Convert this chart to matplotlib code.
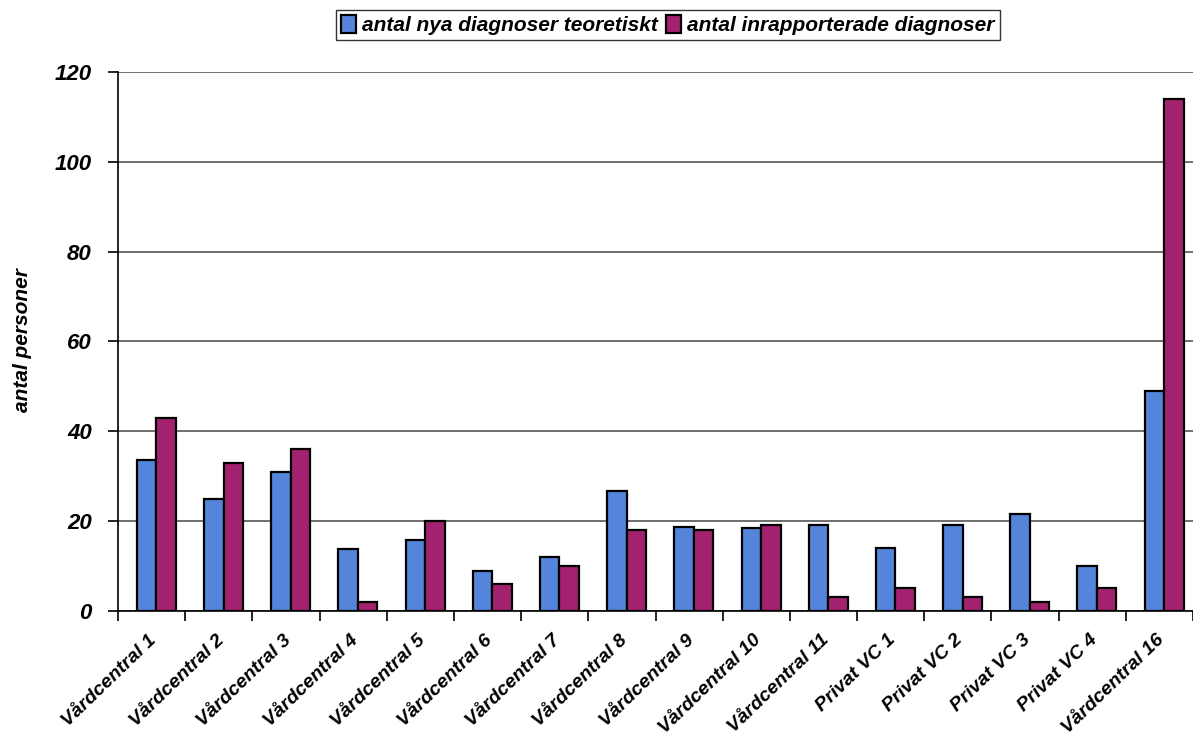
import numpy as np
import matplotlib
matplotlib.use("Agg")
import matplotlib.pyplot as plt

plt.rcParams['font.family'] = ['Liberation Sans', 'DejaVu Sans']

# vårdcentraler
kategorier = ["Vårdcentral 1", "Vårdcentral 2", "Vårdcentral 3", "Vårdcentral 4",
              "Vårdcentral 5", "Vårdcentral 6", "Vårdcentral 7", "Vårdcentral 8",
              "Vårdcentral 9", "Vårdcentral 10", "Vårdcentral 11", "Privat VC 1",
              "Privat VC 2", "Privat VC 3", "Privat VC 4", "Vårdcentral 16"]
teoretiskt = [33.6, 24.9, 31, 13.7, 15.8, 8.9, 12, 26.6, 18.7, 18.5, 19.2, 13.9, 19.1, 21.6, 9.9, 49]
inrapporterade = [43, 33, 36, 2, 20, 6, 10, 18, 18, 19, 3, 5, 3, 2, 5, 114]
y_ticks = [0, 20, 40, 60, 80, 100, 120]

fig = plt.figure(figsize=(11.93, 7.43), dpi=100)
ax = fig.add_axes([0.099, 0.178, 0.901, 0.725])

x = np.arange(len(kategorier))
w = 0.29
b1 = ax.bar(x + 0.07 - w / 2, teoretiskt, w, color='#5585da', edgecolor='black', linewidth=1.6,
            label='antal nya diagnoser teoretiskt', zorder=3)
b2 = ax.bar(x + 0.07 + w / 2, inrapporterade, w, color='#a2226f', edgecolor='black', linewidth=1.6,
            label='antal inrapporterade diagnoser', zorder=3)

ax.set_xlim(-0.5, len(kategorier) - 0.5)
ax.set_ylim(0, 120)
ax.set_yticks(y_ticks)
ax.set_yticklabels([str(v) for v in y_ticks], fontsize=16, fontweight='bold', fontstyle='italic')
ax.yaxis.grid(True, color='#555555', linewidth=1.2, zorder=0)

# ticks between the groups, labels slanted under the bars
ax.set_xticks(np.arange(len(kategorier) + 1) - 0.5, minor=False)
ax.set_xticklabels([])
ax.set_xticks(x - 0.05, minor=True)
ax.set_xticklabels(kategorier, minor=True, rotation=44, ha='right', rotation_mode='anchor',
                   fontsize=14, fontweight='bold', fontstyle='italic')
ax.tick_params(axis='x', which='minor', length=0, pad=15)
ax.tick_params(axis='x', which='major', length=7, width=1.2, direction='out')
ax.tick_params(axis='y', length=7, width=1.2, direction='out', pad=12)

for s in ['top', 'right']:
    ax.spines[s].set_visible(False)
ax.spines['left'].set_linewidth(1.2)
ax.spines['bottom'].set_linewidth(1.2)

ax.set_ylabel('antal personer', fontsize=15, fontweight='bold', fontstyle='italic')
ax.yaxis.set_label_coords(-0.08, 0.503)

leg = fig.legend(handles=[b1, b2], loc='center', bbox_to_anchor=(0.56, 0.966), ncol=2,
                 frameon=True, fancybox=False, edgecolor='black', handlelength=0.7,
                 handleheight=0.9, handletextpad=0.3, columnspacing=0.4, borderpad=0.25,
                 prop={'size': 15, 'weight': 'bold', 'style': 'italic'})
leg.get_frame().set_linewidth(1.0)

fig.savefig('out.png', dpi=100)
